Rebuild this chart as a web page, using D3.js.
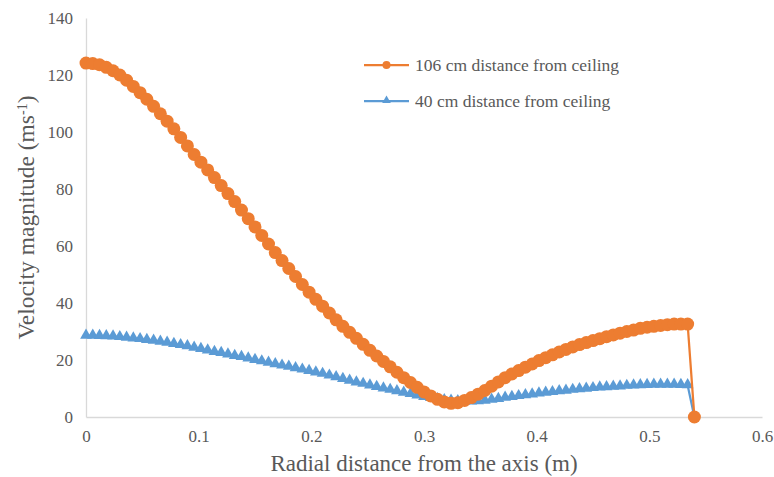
<!DOCTYPE html>
<html>
<head>
<meta charset="utf-8">
<script src="https://cdn.jsdelivr.net/npm/d3@7/dist/d3.min.js"></script>
<style>
  html, body { margin: 0; padding: 0; background: #fff; }
  svg { display: block; }
  svg text { font-family: "Liberation Serif", "DejaVu Serif", "Times New Roman", Times, serif !important; fill: #595959; }
</style>
</head>
<body>
<svg id="chart" width="774" height="477"></svg>
<script>
// Radial sample positions (m)
const radius = [
  0, 0.006, 0.012, 0.018, 0.024, 0.030, 0.036, 0.042, 0.048, 0.054,
  0.060, 0.066, 0.072, 0.078, 0.084, 0.090, 0.096, 0.102, 0.108, 0.114,
  0.120, 0.126, 0.132, 0.138, 0.144, 0.150, 0.156, 0.162, 0.168, 0.174,
  0.180, 0.186, 0.192, 0.198, 0.204, 0.210, 0.216, 0.222, 0.228, 0.234,
  0.240, 0.246, 0.252, 0.258, 0.264, 0.270, 0.276, 0.282, 0.288, 0.294,
  0.300, 0.306, 0.312, 0.318, 0.324, 0.330, 0.336, 0.342, 0.348, 0.354,
  0.360, 0.366, 0.372, 0.378, 0.384, 0.390, 0.396, 0.402, 0.408, 0.414,
  0.420, 0.426, 0.432, 0.438, 0.444, 0.450, 0.456, 0.462, 0.468, 0.474,
  0.480, 0.486, 0.492, 0.498, 0.504, 0.510, 0.516, 0.522, 0.528, 0.534,
  0.540
];

// Velocity magnitude at 106 cm from the ceiling (m/s)
const velocity106 = [
  124.2, 124.0, 123.6, 122.7, 121.5, 120.0, 118.2, 116.0, 113.8, 111.5,
  109.0, 106.4, 103.8, 101.1, 98.1, 95.1, 92.1, 89.4, 86.7, 84.0,
  81.2, 78.4, 75.6, 72.6, 69.6, 66.7, 63.7, 60.7, 57.7, 54.9,
  52.1, 49.3, 46.5, 43.8, 41.3, 38.9, 36.5, 34.1, 31.8, 29.7,
  27.6, 25.5, 23.4, 21.4, 19.5, 17.6, 15.7, 13.8, 12.1, 10.4,
  8.8, 7.4, 6.2, 5.3, 4.8, 5.0, 5.8, 6.8, 8.0, 9.3,
  10.8, 12.3, 13.8, 15.1, 16.3, 17.5, 18.6, 19.8, 20.8, 21.8,
  22.8, 23.7, 24.6, 25.4, 26.1, 26.8, 27.5, 28.2, 28.8, 29.4,
  30.0, 30.5, 31.1, 31.5, 31.8, 32.1, 32.4, 32.6, 32.6, 32.6,
  0
];

// Velocity magnitude at 40 cm from the ceiling (m/s)
const velocity40 = [
  28.5, 28.5, 28.4, 28.3, 28.2, 28.0, 27.8, 27.5, 27.3, 27.0,
  26.7, 26.4, 26.0, 25.6, 25.2, 24.8, 24.3, 23.8, 23.3, 22.8,
  22.4, 21.9, 21.4, 21.0, 20.5, 20.0, 19.5, 19.0, 18.5, 18.0,
  17.6, 17.1, 16.6, 16.1, 15.6, 15.1, 14.5, 13.9, 13.3, 12.7,
  12.1, 11.6, 11.0, 10.5, 10.0, 9.5, 9.0, 8.5, 8.0, 7.5,
  7.0, 6.6, 6.2, 5.9, 5.7, 5.5, 5.4, 5.4, 5.5, 5.7,
  6.0, 6.3, 6.7, 7.0, 7.3, 7.6, 7.9, 8.2, 8.5, 8.7,
  9.0, 9.2, 9.5, 9.7, 9.9, 10.1, 10.3, 10.4, 10.6, 10.7,
  10.9, 11.0, 11.1, 11.2, 11.3, 11.3, 11.3, 11.3, 11.2, 11.1,
  0
];

const seriesNames = ["106 cm distance from ceiling", "40 cm distance from ceiling"];
const xTicks = [0, 0.1, 0.2, 0.3, 0.4, 0.5, 0.6];
const yTicks = [0, 20, 40, 60, 80, 100, 120, 140];

const serif = "'Liberation Serif', 'DejaVu Serif', 'Times New Roman', Times, serif";

const svg = d3.select("#chart");
const margin = { left: 86, right: 12, top: 18, bottom: 60 };
const W = 774, H = 477;

const x = d3.scaleLinear().domain([0, 0.6]).range([margin.left, W - margin.right]);
const y = d3.scaleLinear().domain([0, 140]).range([H - margin.bottom, margin.top]);

const axisColor = "#d9d9d9";

// Axes
const xAxis = svg.append("g")
  .attr("transform", `translate(0,${y(0)})`)
  .call(d3.axisBottom(x).tickValues(xTicks).tickSize(0).tickPadding(13)
    .tickFormat(d => d === 0 ? "0" : d3.format(".1f")(d)));
xAxis.attr("font-family", serif);
xAxis.select(".domain").attr("stroke", axisColor).attr("stroke-width", 1.3);
xAxis.selectAll("text").attr("font-size", 17);

const yAxis = svg.append("g")
  .attr("transform", `translate(${x(0)},0)`)
  .call(d3.axisLeft(y).tickValues(yTicks).tickSize(0).tickPadding(13));
yAxis.attr("font-family", serif);
yAxis.select(".domain").attr("stroke", axisColor).attr("stroke-width", 1.3);
yAxis.selectAll("text").attr("font-size", 17);

// Axis titles
svg.append("text")
  .attr("x", (x(0) + x(0.6)) / 2)
  .attr("y", 471)
  .attr("text-anchor", "middle")
  .attr("font-family", serif)
  .attr("font-size", 23)
  .text("Radial distance from the axis (m)");

const yTitle = svg.append("text")
  .attr("transform", `translate(34,${(y(0) + y(140)) / 2}) rotate(-90)`)
  .attr("text-anchor", "middle")
  .attr("font-family", serif)
  .attr("font-size", 23.5);
yTitle.append("tspan").text("Velocity magnitude (ms");
yTitle.append("tspan").attr("font-size", 14).attr("baseline-shift", "super").text("-1");
yTitle.append("tspan").text(")");

const orange = "#ed7d31";
const blue = "#5b9bd5";

const line = d3.line().x(d => x(d[0])).y(d => y(d[1]));
const dataOrange = radius.map((r, i) => [r, velocity106[i]]);
const dataBlue = radius.map((r, i) => [r, velocity40[i]]);

const tri = d3.symbol().type(d3.symbolTriangle);

// 40 cm series
svg.append("path").datum(dataBlue)
  .attr("fill", "none").attr("stroke", blue).attr("stroke-width", 2.25)
  .attr("d", line);
svg.append("g").selectAll("path").data(dataBlue).join("path")
  .attr("transform", d => `translate(${x(d[0])},${y(d[1]) - 0.5})`)
  .attr("d", tri.size(60)())
  .attr("fill", blue);

// 106 cm series
svg.append("path").datum(dataOrange)
  .attr("fill", "none").attr("stroke", orange).attr("stroke-width", 2.25)
  .attr("d", line);
svg.append("g").selectAll("circle").data(dataOrange).join("circle")
  .attr("cx", d => x(d[0])).attr("cy", d => y(d[1]))
  .attr("r", 6.5)
  .attr("fill", orange);

// Legend
const legend = svg.append("g");
const legendRows = [
  { name: seriesNames[0], color: orange, marker: "circle", y: 65 },
  { name: seriesNames[1], color: blue, marker: "triangle", y: 101 }
];
legendRows.forEach(row => {
  legend.append("line")
    .attr("x1", 364).attr("x2", 409).attr("y1", row.y).attr("y2", row.y)
    .attr("stroke", row.color).attr("stroke-width", 2.25);
  if (row.marker === "circle") {
    legend.append("circle").attr("cx", 386.5).attr("cy", row.y).attr("r", 4).attr("fill", row.color);
  } else {
    legend.append("path").attr("transform", `translate(386.5,${row.y - 0.5})`)
      .attr("d", tri.size(32)()).attr("fill", row.color);
  }
  legend.append("text")
    .attr("x", 415).attr("y", row.y).attr("dy", "0.35em")
    .attr("font-family", serif)
    .attr("font-size", 17.5)
    .text(row.name);
});
</script>
</body>
</html>
